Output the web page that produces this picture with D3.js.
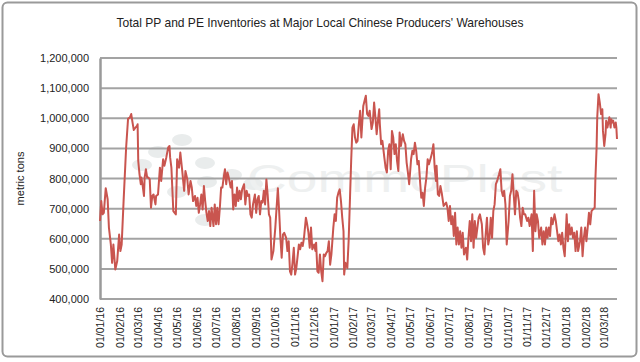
<!DOCTYPE html>
<html>
<head>
<meta charset="utf-8">
<script src="https://cdn.jsdelivr.net/npm/d3@7/dist/d3.min.js"></script>
<style>
  body { margin: 0; background: #fff; }
  svg { display: block; font-family: "Liberation Sans", Arial, sans-serif; }
</style>
</head>
<body>
<div id="chart"></div>
<script>
// Inventory readings, thousand metric tons, split by year
const dates16 = ["2016-01-01","2016-01-03","2016-01-05","2016-01-07","2016-01-10","2016-01-13","2016-01-15","2016-01-18","2016-01-20","2016-01-22","2016-01-25","2016-01-28","2016-01-31","2016-02-02","2016-02-04","2016-02-07","2016-02-11","2016-02-14","2016-02-17","2016-02-19","2016-02-21","2016-02-23","2016-02-26","2016-02-28","2016-02-29","2016-03-01","2016-03-03","2016-03-05","2016-03-06","2016-03-08","2016-03-10","2016-03-11","2016-03-13","2016-03-15","2016-03-17","2016-03-19","2016-03-21","2016-03-23","2016-03-25","2016-03-28","2016-03-29","2016-04-01","2016-04-04","2016-04-06","2016-04-09","2016-04-11","2016-04-14","2016-04-17","2016-04-19","2016-04-20","2016-04-22","2016-04-25","2016-04-29","2016-05-01","2016-05-04","2016-05-06","2016-05-09","2016-05-12","2016-05-14","2016-05-17","2016-05-19","2016-05-22","2016-05-24","2016-05-26","2016-05-29","2016-05-31","2016-06-02","2016-06-04","2016-06-06","2016-06-08","2016-06-10","2016-06-12","2016-06-14","2016-06-16","2016-06-18","2016-06-20","2016-06-22","2016-06-24","2016-06-27","2016-06-29","2016-07-01","2016-07-03","2016-07-05","2016-07-07","2016-07-09","2016-07-11","2016-07-13","2016-07-15","2016-07-17","2016-07-19","2016-07-21","2016-07-24","2016-07-26","2016-07-28","2016-07-30","2016-08-01","2016-08-03","2016-08-05","2016-08-07","2016-08-09","2016-08-11","2016-08-14","2016-08-16","2016-08-18","2016-08-20","2016-08-22","2016-08-24","2016-08-26","2016-08-28","2016-08-31","2016-09-02","2016-09-04","2016-09-06","2016-09-08","2016-09-10","2016-09-12","2016-09-14","2016-09-16","2016-09-18","2016-09-20","2016-09-22","2016-09-24","2016-09-26","2016-09-29","2016-10-02","2016-10-04","2016-10-06","2016-10-08","2016-10-10","2016-10-12","2016-10-14","2016-10-16","2016-10-19","2016-10-21","2016-10-23","2016-10-25","2016-10-27","2016-10-29","2016-10-31","2016-11-02","2016-11-04","2016-11-06","2016-11-08","2016-11-10","2016-11-12","2016-11-14","2016-11-16","2016-11-19","2016-11-21","2016-11-23","2016-11-25","2016-11-27","2016-11-29","2016-12-02","2016-12-04","2016-12-05","2016-12-07","2016-12-09","2016-12-11","2016-12-13","2016-12-15","2016-12-17","2016-12-19","2016-12-21","2016-12-23","2016-12-25","2016-12-27","2016-12-29"];
const tons16 = [659,725,681,686,768,731,637,581,520,581,498,526,614,559,581,725,903,998,1003,1014,986,961,970,975,980,858,814,781,803,775,742,803,831,803,803,797,703,742,747,714,742,747,836,792,864,842,870,903,908,870,836,692,681,864,836,886,825,759,825,797,747,792,770,725,742,709,736,686,714,747,697,775,725,686,659,692,642,703,642,714,648,703,648,703,770,770,803,831,781,820,803,770,792,697,747,709,770,725,759,731,764,781,714,759,742,747,681,670,714,747,686,731,742,681,725,720,759,714,797,747,681,670,531,559,637,703,768,692,603,537,614,620,603,559,592,492,481,520,570,481,503,542,581,565,587,576,603,670,648,620,570,637,565,581,559,587,492,487,548,492,459,548,542,553,559,592,514,548];

const dates17 = ["2017-01-01","2017-01-03","2017-01-05","2017-01-07","2017-01-09","2017-01-11","2017-01-13","2017-01-15","2017-01-17","2017-01-18","2017-01-20","2017-01-23","2017-01-25","2017-01-27","2017-01-29","2017-01-31","2017-02-02","2017-02-04","2017-02-06","2017-02-08","2017-02-10","2017-02-12","2017-02-14","2017-02-17","2017-02-19","2017-02-21","2017-02-23","2017-02-25","2017-02-27","2017-03-02","2017-03-04","2017-03-06","2017-03-08","2017-03-10","2017-03-12","2017-03-14","2017-03-15","2017-03-17","2017-03-19","2017-03-22","2017-03-24","2017-03-26","2017-03-28","2017-03-30","2017-04-01","2017-04-03","2017-04-05","2017-04-07","2017-04-09","2017-04-11","2017-04-13","2017-04-15","2017-04-17","2017-04-20","2017-04-22","2017-04-24","2017-04-26","2017-04-28","2017-04-30","2017-05-03","2017-05-05","2017-05-07","2017-05-09","2017-05-11","2017-05-13","2017-05-15","2017-05-17","2017-05-19","2017-05-21","2017-05-23","2017-05-25","2017-05-27","2017-05-29","2017-05-31","2017-06-03","2017-06-05","2017-06-07","2017-06-09","2017-06-11","2017-06-12","2017-06-14","2017-06-16","2017-06-18","2017-06-20","2017-06-23","2017-06-27","2017-06-29","2017-07-01","2017-07-03","2017-07-05","2017-07-07","2017-07-09","2017-07-11","2017-07-13","2017-07-15","2017-07-17","2017-07-19","2017-07-21","2017-07-23","2017-07-25","2017-07-28","2017-07-30","2017-08-01","2017-08-03","2017-08-05","2017-08-07","2017-08-09","2017-08-11","2017-08-13","2017-08-15","2017-08-17","2017-08-19","2017-08-22","2017-08-24","2017-08-26","2017-08-28","2017-08-30","2017-09-01","2017-09-03","2017-09-05","2017-09-07","2017-09-09","2017-09-11","2017-09-13","2017-09-15","2017-09-18","2017-09-20","2017-09-22","2017-09-24","2017-09-26","2017-09-28","2017-09-30","2017-10-03","2017-10-05","2017-10-07","2017-10-09","2017-10-11","2017-10-13","2017-10-15","2017-10-17","2017-10-19","2017-10-21","2017-10-23","2017-10-25","2017-10-27","2017-10-29","2017-11-01","2017-11-03","2017-11-05","2017-11-08","2017-11-10","2017-11-12","2017-11-14","2017-11-16","2017-11-18","2017-11-20","2017-11-23","2017-11-25","2017-11-27","2017-11-29","2017-12-01","2017-12-03","2017-12-05","2017-12-07","2017-12-09","2017-12-11","2017-12-14","2017-12-16","2017-12-18","2017-12-20","2017-12-22","2017-12-24","2017-12-26","2017-12-28","2017-12-30"];
const tons17 = [637,681,659,736,753,764,725,670,625,481,520,503,592,725,858,969,980,936,919,925,980,1025,936,1041,1058,1075,1014,1008,1025,964,986,1052,1003,947,992,1030,980,914,925,870,836,820,892,914,831,958,936,881,914,858,825,953,908,947,925,914,853,820,781,864,892,881,919,892,847,858,792,736,753,709,770,803,864,847,870,886,914,836,792,842,747,742,775,753,709,720,703,659,709,648,675,609,686,581,637,581,625,570,620,548,570,531,603,659,592,681,570,659,603,637,670,681,648,570,548,614,670,581,603,670,603,692,714,781,792,814,831,759,742,759,714,581,659,742,759,814,747,681,759,753,725,670,642,703,681,681,659,670,642,681,559,759,625,681,659,603,637,581,625,581,637,603,637,609,670,648,681,659,625,592,614,581,620,570,542];

const dates18 = ["2018-01-02","2018-01-04","2018-01-06","2018-01-08","2018-01-10","2018-01-12","2018-01-14","2018-01-16","2018-01-18","2018-01-20","2018-01-23","2018-01-25","2018-01-27","2018-01-29","2018-01-31","2018-02-02","2018-02-04","2018-02-06","2018-02-08","2018-02-10","2018-02-12","2018-02-15","2018-02-16","2018-02-18","2018-02-19","2018-02-21","2018-02-23","2018-02-25","2018-02-27","2018-02-28","2018-03-02","2018-03-04","2018-03-05","2018-03-07","2018-03-08","2018-03-10","2018-03-12","2018-03-13","2018-03-15","2018-03-16","2018-03-18","2018-03-20","2018-03-21","2018-03-22"];
const tons18 = [681,592,648,614,637,603,620,559,625,559,592,637,542,603,637,592,637,686,648,692,697,703,792,903,1003,1080,1052,1014,1030,958,908,947,992,969,980,1003,969,997,986,992,969,986,969,931];

const yTicks = [400000, 500000, 600000, 700000, 800000, 900000, 1000000, 1100000, 1200000];
const chartTitle = "Total PP and PE Inventories at Major Local Chinese Producers' Warehouses";
const yTitle = "metric tons";
const watermark = "CommoPlast";

const width = 640;
const height = 362;
const margin = { top: 58, right: 23, bottom: 63, left: 100 };

const parseDate = d3.timeParse("%Y-%m-%d");
const allTons = tons16.concat(tons17, tons18);
const data = dates16.concat(dates17, dates18).map((d, i) => ({
  date: parseDate(d),
  tons: allTons[i] * 1000,
}));

const svg = d3
  .select("#chart")
  .append("svg")
  .attr("width", width)
  .attr("height", height);

// Frame
svg
  .append("rect")
  .attr("x", 2.5)
  .attr("y", 2.5)
  .attr("width", 634)
  .attr("height", 354)
  .attr("rx", 5)
  .attr("fill", "#fff")
  .attr("stroke", "#9a9a9a")
  .attr("stroke-width", 2);

svg
  .append("text")
  .attr("x", 320)
  .attr("y", 27)
  .attr("text-anchor", "middle")
  .attr("font-size", "13px")
  .attr("textLength", 407)
  .attr("lengthAdjust", "spacingAndGlyphs")
  .attr("fill", "#222")
  .text(chartTitle);

const xScale = d3
  .scaleTime()
  .domain(d3.extent(data, (d) => d.date))
  .range([margin.left, width - margin.right]);

const yScale = d3
  .scaleLinear()
  .domain([400000, 1200000])
  .range([height - margin.bottom, margin.top]);

// Watermark (logo dots + name)
const blobs = [
  [182, 140], [158, 152], [142, 165], [205, 163], [232, 175],
  [207, 182], [177, 192], [205, 220], [253, 184],
];
svg
  .append("g")
  .selectAll("ellipse")
  .data(blobs)
  .enter()
  .append("ellipse")
  .attr("cx", (d) => d[0])
  .attr("cy", (d) => d[1])
  .attr("rx", 10)
  .attr("ry", 6)
  .attr("fill", "#e9ecec");

svg
  .append("text")
  .attr("transform", "translate(247, 192) scale(1.45, 1)")
  .attr("font-size", "38px")
  .attr("fill", "#eef0f0")
  .text(watermark);

// Gridlines
svg
  .append("g")
  .selectAll("line")
  .data(yTicks)
  .enter()
  .append("line")
  .attr("x1", margin.left)
  .attr("x2", width - margin.right)
  .attr("y1", (d) => yScale(d))
  .attr("y2", (d) => yScale(d))
  .attr("stroke", "#a3a3a3")
  .attr("stroke-width", 2);

// Axis
const yAxis = svg
  .append("g")
  .attr("transform", `translate(${margin.left}, 0)`)
  .call(
    d3
      .axisLeft(yScale)
      .tickValues(yTicks)
      .tickSize(0)
      .tickPadding(11)
      .tickFormat(d3.format(","))
  );
yAxis.select(".domain").attr("stroke", "#9a9a9a").attr("stroke-width", 2.5);
yAxis.selectAll("text").attr("font-size", "11px").attr("fill", "#222").style("font-family", "inherit");

const xAxis = svg
  .append("g")
  .attr("transform", `translate(0, ${height - margin.bottom})`)
  .call(
    d3
      .axisBottom(xScale)
      .ticks(d3.timeMonth.every(1))
      .tickSize(0)
      .tickFormat(d3.timeFormat("%d/%m/%y"))
  );
xAxis.select(".domain").remove();
xAxis
  .selectAll("text")
  .attr("transform", "rotate(-90)")
  .attr("text-anchor", "end")
  .attr("x", -8)
  .attr("y", 0)
  .attr("dy", "0.35em")
  .attr("font-size", "10.5px")
  .attr("fill", "#222")
  .style("font-family", "inherit");

svg
  .append("text")
  .attr("x", -(yScale(800000)))
  .attr("y", 24)
  .attr("transform", "rotate(-90)")
  .attr("text-anchor", "middle")
  .attr("font-size", "11px")
  .attr("fill", "#222")
  .text(yTitle);

// Inventory line
svg
  .append("path")
  .datum(data)
  .attr("fill", "none")
  .attr("stroke", "#c9554f")
  .attr("stroke-width", 2)
  .attr("stroke-linejoin", "round")
  .attr(
    "d",
    d3
      .line()
      .x((d) => xScale(d.date))
      .y((d) => yScale(d.tons))
  );
</script>
</body>
</html>
